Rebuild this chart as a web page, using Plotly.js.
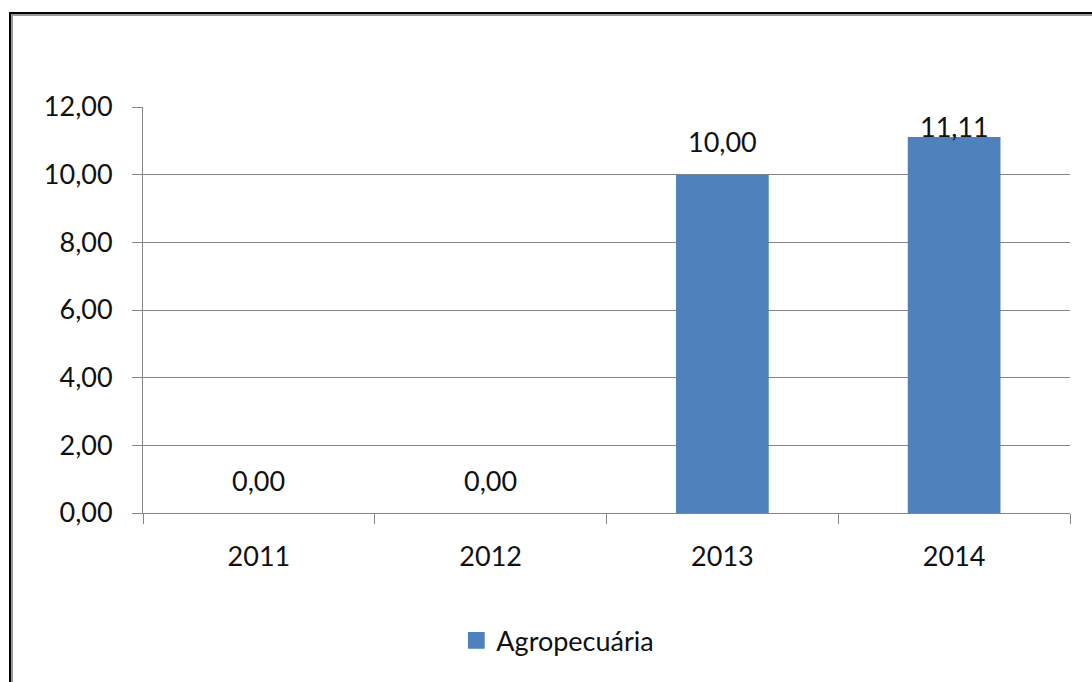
<!DOCTYPE html>
<html>
<head>
<meta charset="utf-8">
<script src="https://cdn.plot.ly/plotly-3.0.1.min.js"></script>
<style>
  html, body { margin: 0; padding: 0; background: #fff; }
  #frame { position: absolute; left: 9px; top: 12px; width: 1083px; height: 670px;
           border-left: 2px solid #000; border-top: 2px solid #000;
           box-shadow: inset 2px 2px 0 #9a9a9a; box-sizing: border-box; }
  #chart { position: absolute; left: 0; top: 0; width: 1092px; height: 682px; }
</style>
</head>
<body>
<div id="frame"></div>
<div id="chart"></div>
<script>
const categories = ["2011", "2012", "2013", "2014"];
const seriesName = "Agropecuária";
const values = [0.00, 0.00, 10.00, 11.11];
const yTickVals = [0, 2, 4, 6, 8, 10, 12];

const FONT = "Lato, 'Open Sans', sans-serif";
const FS = 27;
const fmt = v => v.toFixed(2).replace('.', ',');

const trace = {
  type: 'bar',
  x: categories,
  y: values,
  name: seriesName,
  marker: { color: '#4F81BD' },
  showlegend: true,
  hoverinfo: 'skip'
};

const labelOffset = 0.975;
const labelCap = 11.41;
const annotations = values.map((v, i) => ({
  x: i, y: Math.min(v + labelOffset, labelCap),
  xref: 'x', yref: 'y', text: fmt(v), showarrow: false,
  yanchor: 'middle', xanchor: 'center',
  font: { family: FONT, size: FS, color: '#111' }
}));

const layout = {
  width: 1092, height: 682,
  margin: { l: 143, r: 22, t: 107, b: 169 },
  paper_bgcolor: 'rgba(0,0,0,0)',
  plot_bgcolor: 'rgba(0,0,0,0)',
  separators: ',.',
  bargap: 0.6,
  font: { family: FONT, size: FS, color: '#111' },
  xaxis: {
    type: 'category',
    range: [-0.5, categories.length - 0.5],
    tickson: 'boundaries',
    ticks: 'outside', ticklen: 10, tickcolor: '#868686', tickwidth: 1,
    showline: true, linecolor: '#868686', linewidth: 1,
    showgrid: false,
    tickangle: 0,
    ticklabelstandoff: 20,
    tickfont: { family: FONT, size: FS, color: '#111' }
  },
  yaxis: {
    range: [0, 12],
    tickvals: yTickVals,
    tickformat: '.2f',
    ticks: 'outside', ticklen: 10, tickcolor: '#868686', tickwidth: 1,
    showline: true, linecolor: '#868686', linewidth: 1,
    showgrid: true, gridcolor: '#868686', gridwidth: 1,
    zeroline: false,
    ticklabelstandoff: 14,
    tickfont: { family: FONT, size: FS, color: '#111' }
  },
  legend: {
    orientation: 'h',
    x: 0.338, xanchor: 'left',
    y: -0.315, yanchor: 'middle',
    font: { family: FONT, size: FS, color: '#111' },
    bgcolor: 'rgba(0,0,0,0)'
  },
  annotations: annotations
};

Plotly.newPlot('chart', [trace], layout, { displayModeBar: false, staticPlot: true })
  .then(gd => {
    gd.querySelectorAll('.legendpoints path').forEach(p => {
      const t = p.getAttribute('transform') || '';
      p.setAttribute('transform', t + ' scale(1.4)');
    });
  });
</script>
</body>
</html>
